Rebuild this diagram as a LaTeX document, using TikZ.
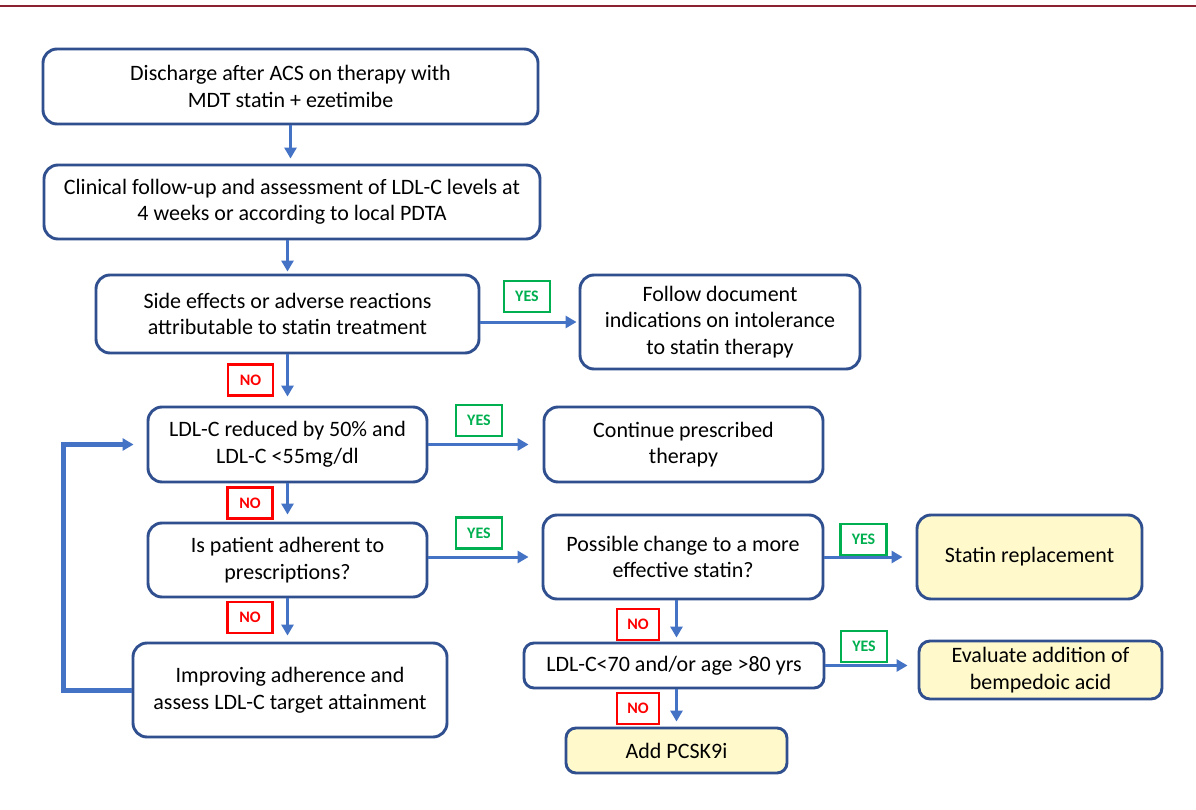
\documentclass[tikz,border=0pt]{standalone}
\usepackage{fontspec}
\setmainfont{Carlito}
\usetikzlibrary{arrows.meta}
\definecolor{boxline}{HTML}{2F4F8F}
\definecolor{arrowc}{HTML}{4472C4}
\definecolor{yesc}{HTML}{00B050}
\definecolor{noc}{HTML}{FF0000}
\definecolor{yellowf}{HTML}{FFF9CC}
\definecolor{topline}{HTML}{8B2232}
\tikzset{
  box/.style={draw=boxline, line width=2.9pt, rounded corners=14pt, fill=white,
    align=center, inner sep=0pt, font=\fontsize{22}{26.5}\selectfont},
  ybox/.style={box, fill=yellowf},
  yeslab/.style={draw=yesc, line width=2.6pt, text=yesc, inner sep=0pt,
    font=\fontsize{16}{18}\selectfont\bfseries, minimum width=46pt, minimum height=31pt},
  nolab/.style={draw=noc, line width=2.6pt, text=noc, inner sep=0pt,
    font=\fontsize{16}{18}\selectfont\bfseries, minimum width=45pt, minimum height=31pt},
  arr/.style={draw=arrowc, line width=3pt, -{Triangle[length=11pt,width=12pt]}},
}
\begin{document}
\begin{tikzpicture}[x=1pt,y=-1pt]
\fill[white] (0,0) rectangle (1196,810);
\useasboundingbox (0,0) rectangle (1196,810);
\draw[topline, line width=2.8pt] (0,6) -- (1196,6);

\node[box, minimum width=495pt, minimum height=75pt] (dis) at (290.5,86.5)
  {Discharge after ACS on therapy with\\MDT statin + ezetimibe};
\node[box, minimum width=496pt, minimum height=74pt] (cli) at (292,202)
  {Clinical follow-up and assessment of LDL-C levels at\\4 weeks or according to local PDTA};
\node[box, minimum width=383pt, minimum height=78pt] (side) at (287.5,314)
  {Side effects or adverse reactions\\attributable to statin treatment};
\node[box, minimum width=280pt, minimum height=94pt] (follow) at (720,322)
  {Follow document\\indications on intolerance\\to statin therapy};
\node[box, minimum width=279pt, minimum height=75pt] (ldl) at (287.5,444.5)
  {LDL-C reduced by 50\% and\\LDL-C <55mg/dl};
\node[box, minimum width=279pt, minimum height=75pt] (cont) at (683.5,444.5)
  {Continue prescribed\\therapy};
\node[box, minimum width=279pt, minimum height=74pt] (adh) at (287.5,560)
  {Is patient adherent to\\prescriptions?};
\node[box, minimum width=314pt, minimum height=94pt] (imp) at (290,690)
  {Improving adherence and\\assess LDL-C target attainment};
\node[box, minimum width=280pt, minimum height=84pt] (poss) at (683,557)
  {Possible change to a more\\effective statin?};
\node[ybox, minimum width=225pt, minimum height=84pt] (stat) at (1029.5,557)
  {Statin replacement};
\node[box, rounded corners=10pt, minimum width=300pt, minimum height=45pt] (l70) at (674,665.5)
  {LDL-C<70 and/or age >80 yrs};
\node[ybox, rounded corners=11pt, minimum width=243pt, minimum height=58pt] (eval) at (1040.5,670)
  {Evaluate addition of\\bempedoic acid};
\node[ybox, rounded corners=10pt, minimum width=221pt, minimum height=45pt] (add) at (676.5,750.5)
  {Add PCSK9i};

% labels
\node[yeslab] (yes1) at (527,296.5) {YES};
\node[nolab] (no1) at (250.5,380) {NO};
\node[yeslab] (yes2) at (479,420.5) {YES};
\node[nolab] (no2) at (250,503) {NO};
\node[yeslab] (yes3) at (479,533) {YES};
\node[nolab] (no3) at (250,617.5) {NO};
\node[yeslab] (yes4) at (863.5,539.5) {YES};
\node[nolab, minimum width=42pt] (no4) at (638,624.5) {NO};
\node[yeslab] (yes5) at (864,646.5) {YES};
\node[nolab, minimum width=42pt] (no5) at (638,708.5) {NO};

% connectors
\draw[arr, shorten >=5pt] (dis.south) -- (dis.south |- cli.north);
\draw[arr, shorten >=2pt] (side.north |- cli.south) -- (side.north);
\draw[arr, shorten >=9pt] (side.south) -- (side.south |- ldl.north);
\draw[arr, shorten >=7pt] (ldl.south) -- (adh.north);
\draw[arr, shorten >=6pt] (adh.south) -- (adh.south |- imp.north);
\draw[arr, shorten >=2pt] (side.east |- follow.west) -- (follow.west);
\draw[arr, shorten >=14pt] (ldl.east) -- (cont.west);
\draw[arr, shorten >=13pt] (adh.east |- poss.west) -- (poss.west);
\draw[arr, shorten >=13pt] (poss.east) -- (stat.west);
\draw[arr, shorten >=4pt] (add.north |- poss.south) -- (add.north |- l70.north);
\draw[arr, shorten >=5pt] (add.north |- l70.south) -- (add.north);
\draw[arr, shorten >=10pt] (l70.east) -- (l70.east -| eval.west);
\draw[arr, line width=5pt, shorten >=13pt] (imp.west) -- ++(-68,0) |- (ldl.west);
\end{tikzpicture}
\end{document}
